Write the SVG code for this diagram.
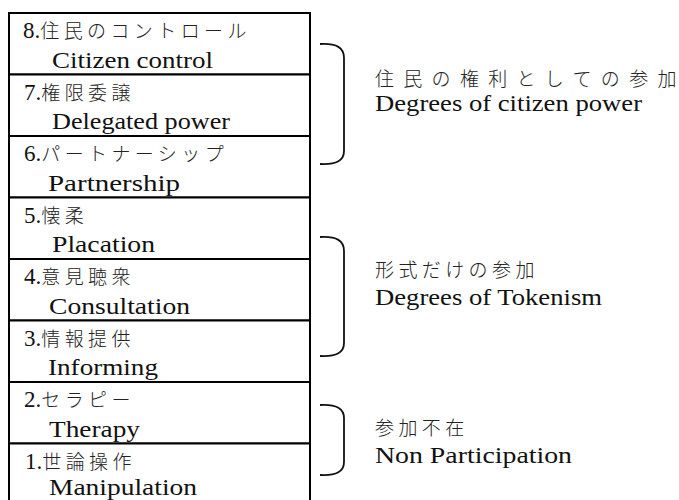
<svg xmlns="http://www.w3.org/2000/svg" width="679" height="500" viewBox="0 0 679 500">
<style>
.row{fill:#fff;stroke:#000;stroke-width:2}
.en{font-family:'Liberation Serif','Times New Roman',serif;font-size:23px;fill:#111}
.num{font-family:'Liberation Serif','Times New Roman',serif;font-size:23px;fill:#111}
.jp{font-family:'Noto Sans CJK JP','Noto Sans',sans-serif;font-size:19px;font-weight:300;letter-spacing:4.4px;fill:#222}
.jpw{font-family:'Noto Sans CJK JP','Noto Sans',sans-serif;font-size:19px;font-weight:300;letter-spacing:9.3px;fill:#222}
.brace{fill:none;stroke:#111;stroke-width:1.8}
</style>
<rect width="679" height="500" fill="#fff"/>
<g id="ladder">
<g id="row8"><rect class="row" x="9" y="13" width="301" height="61.5"/><text class="num" x="23" y="38">8.<tspan class="jp">住民のコントロール</tspan></text><text class="en" x="52" y="67.5" textLength="161" lengthAdjust="spacingAndGlyphs">Citizen control</text></g>
<g id="row7"><rect class="row" x="9" y="74.5" width="301" height="61.5"/><text class="num" x="24" y="99.5">7.<tspan class="jp">権限委譲</tspan></text><text class="en" x="52" y="129" textLength="178" lengthAdjust="spacingAndGlyphs">Delegated power</text></g>
<g id="row6"><rect class="row" x="9" y="136" width="301" height="61.5"/><text class="num" x="24" y="161">6.<tspan class="jp">パートナーシップ</tspan></text><text class="en" x="48" y="190.5" textLength="132" lengthAdjust="spacingAndGlyphs">Partnership</text></g>
<g id="row5"><rect class="row" x="9" y="197.5" width="301" height="61.5"/><text class="num" x="24" y="222.5">5.<tspan class="jp">懐柔</tspan></text><text class="en" x="52" y="252" textLength="103" lengthAdjust="spacingAndGlyphs">Placation</text></g>
<g id="row4"><rect class="row" x="9" y="259" width="301" height="61.5"/><text class="num" x="24" y="284">4.<tspan class="jp">意見聴衆</tspan></text><text class="en" x="49" y="313.5" textLength="141" lengthAdjust="spacingAndGlyphs">Consultation</text></g>
<g id="row3"><rect class="row" x="9" y="320.5" width="301" height="61.5"/><text class="num" x="24" y="345.5">3.<tspan class="jp">情報提供</tspan></text><text class="en" x="48" y="375" textLength="110" lengthAdjust="spacingAndGlyphs">Informing</text></g>
<g id="row2"><rect class="row" x="9" y="382" width="301" height="61.5"/><text class="num" x="24" y="407">2.<tspan class="jp">セラピー</tspan></text><text class="en" x="49" y="436.5" textLength="91" lengthAdjust="spacingAndGlyphs">Therapy</text></g>
<g id="row1"><rect class="row" x="9" y="443.5" width="301" height="61.5"/><text class="num" x="25" y="468.5">1.<tspan class="jp">世論操作</tspan></text><text class="en" x="49" y="495" textLength="148" lengthAdjust="spacingAndGlyphs">Manipulation</text></g>
</g>
<g id="connectors">
<path class="brace" d="M320,44 C337,43 344,48 344,58 L344,151 C344,160 337,165 320,164"/>
<path class="brace" d="M320,237 C337,236 344,241 344,251 L344,343 C344,352 337,357 320,356"/>
<path class="brace" d="M320,405 C337,404 344,409 344,418 L344,462 C344,471 337,476 320,475"/>
</g>
<g id="group-citizen-power"><text class="jpw" x="375" y="86">住民の権利としての参<tspan letter-spacing="0">加</tspan></text><text class="en" x="375" y="111" textLength="267" lengthAdjust="spacingAndGlyphs">Degrees of citizen power</text></g>
<g id="group-tokenism"><text class="jp" x="375" y="277">形式だけの参加</text><text class="en" x="375" y="305" textLength="227" lengthAdjust="spacingAndGlyphs">Degrees of Tokenism</text></g>
<g id="group-non-participation"><text class="jp" x="375" y="435">参加不在</text><text class="en" x="375" y="463" textLength="197" lengthAdjust="spacingAndGlyphs">Non Participation</text></g>
</svg>
